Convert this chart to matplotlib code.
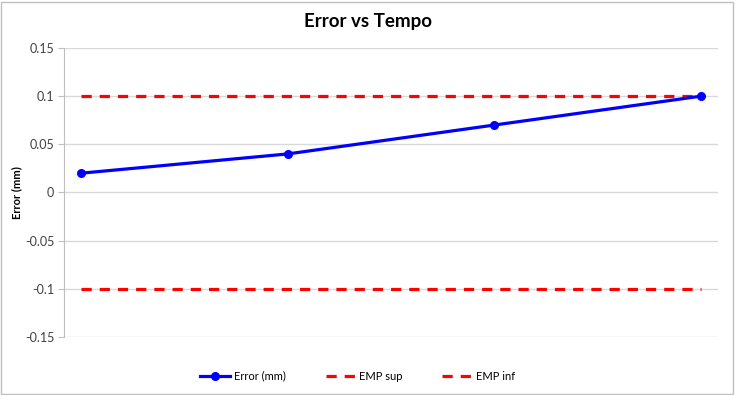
import numpy as np
import matplotlib.pyplot as plt
from matplotlib.patches import Rectangle

# data
x = [1, 2, 3, 4]
error_mm = [0.02, 0.04, 0.07, 0.10]
emp_sup = [0.1, 0.1, 0.1, 0.1]
emp_inf = [-0.1, -0.1, -0.1, -0.1]
yticks = [-0.15, -0.1, -0.05, 0, 0.05, 0.1, 0.15]
ytick_labels = ["-0.15", "-0.1", "-0.05", "0", "0.05", "0.1", "0.15"]

plt.rcParams['font.family'] = ['Lato', 'DejaVu Sans']

fig = plt.figure(figsize=(7.36, 3.95), dpi=100)
ax = fig.add_axes([0.087, 0.147, 0.8885, 0.7315])

ax.plot(x, error_mm, color='#0000ff', lw=2.3, marker='o', markersize=5.5, label='Error (mm)', zorder=4)
ax.plot(x, emp_sup, color='#ff0000', lw=2.3, dashes=(3.2, 2.5), label='EMP sup', zorder=3)
ax.plot(x, emp_inf, color='#ff0000', lw=2.3, dashes=(3.2, 2.5), label='EMP inf', zorder=3)

ax.set_xlim(0.918, 4.082)
ax.set_ylim(-0.15, 0.15)
ax.set_yticks(yticks)
ax.set_yticklabels(ytick_labels, fontsize=9, color='#404040')
ax.set_xticks([])
ax.grid(axis='y', color='#d9d9d9', lw=1)
ax.set_axisbelow(True)
for s in ['top', 'right', 'bottom']:
    ax.spines[s].set_visible(False)
ax.spines['left'].set_color('#bfbfbf')
ax.tick_params(axis='y', length=4, color='#bfbfbf', pad=3)

ax.set_ylabel("Error (mm)", fontsize=8, fontweight='bold')
ax.yaxis.set_label_coords(-0.064, 0.5)
fig.text(0.5, 0.945, "Error vs Tempo", ha='center', va='center', fontsize=13.5, fontweight='bold')

fig.legend(loc='center', bbox_to_anchor=(0.486, 0.048), ncol=3, frameon=False, fontsize=8,
           handlelength=2.7, columnspacing=3.6, handletextpad=0.3)

fig.add_artist(Rectangle((0.002, 0.003), 0.994, 0.993, transform=fig.transFigure,
                         fill=False, edgecolor='#bfbfbf', lw=1))

fig.savefig("out.png", dpi=100)
